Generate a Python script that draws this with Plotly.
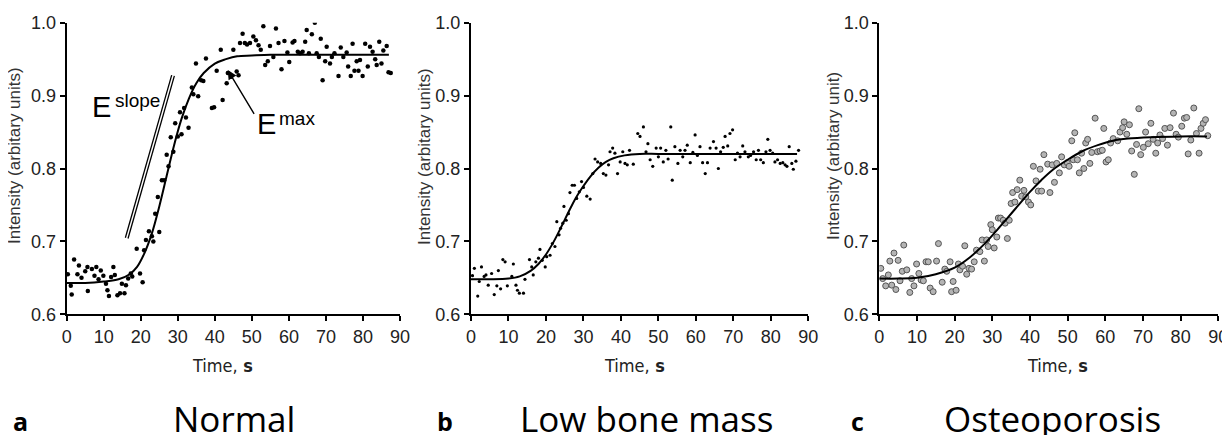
import plotly.graph_objects as go

# ---------------- data ----------------
# Panel a: Normal
a_time = [0.3, 1.1, 1.35, 2.0, 2.9, 3.3, 4.0, 5.0, 5.7, 5.6, 6.8, 7.5, 8.0, 8.6, 9.2, 9.9, 10.6, 11.0, 11.4,
          12.0, 12.6, 13.0, 13.7, 14.4, 14.9, 15.6, 16.0, 16.6, 17.3, 17.7, 18.9, 19.8, 20.5, 20.9,
          21.4, 22.2, 23.0, 23.4, 23.9, 24.6, 25.0, 25.7, 26.3, 27.0, 27.5, 28.1, 28.8, 29.3, 30.0, 30.6,
          31.0, 31.7, 32.2, 32.9, 33.8, 34.2, 34.9, 35.5, 36.3, 36.9, 37.6, 39.2, 39.8, 40.5, 41.6, 42.1,
          43.2, 43.5, 44.4, 45.0, 45.9, 46.4, 46.8, 47.5, 48.1, 48.7, 49.5, 50.4, 51.1, 51.8, 52.4, 53.1,
          53.6, 54.3, 54.9, 55.8, 56.5, 57.2, 58.0, 58.8, 59.6, 60.1, 61.0, 61.5, 62.4, 63.0, 63.7, 64.4,
          64.8, 65.4, 66.2, 67.0, 67.5, 68.1, 68.6, 69.1, 69.8, 70.2, 71.1, 71.6, 72.3, 73.4, 74.0, 74.7,
          75.6, 76.0, 76.7, 77.2, 77.7, 78.3, 78.8, 79.2, 79.9, 80.6, 81.3, 81.9, 82.6, 83.3, 83.7, 84.4,
          85.0, 85.5, 86.4, 86.9, 87.5]
a_int = [0.655, 0.639, 0.627, 0.675, 0.655, 0.667, 0.650, 0.659, 0.632, 0.665, 0.662, 0.653, 0.665, 0.648,
         0.660, 0.653, 0.642, 0.633, 0.625, 0.651, 0.665, 0.654, 0.626, 0.629, 0.642, 0.629, 0.640, 0.649,
         0.656, 0.652, 0.690, 0.656, 0.644, 0.688,
         0.702, 0.714, 0.707, 0.700, 0.738, 0.761, 0.713, 0.784, 0.784, 0.819, 0.803, 0.843, 0.823, 0.862,
         0.844, 0.877, 0.847, 0.883, 0.870, 0.856, 0.911, 0.902, 0.944, 0.899, 0.921, 0.920, 0.951, 0.883,
         0.884, 0.934, 0.963, 0.894, 0.917, 0.931, 0.926, 0.963, 0.933, 0.928, 0.972, 0.985, 0.972, 0.970,
         0.972, 0.981, 0.976, 0.969, 0.963, 0.995, 0.942, 0.947, 0.968, 0.953, 0.992, 0.972, 0.936, 0.975,
         0.959, 0.946, 0.973, 0.975, 0.960, 0.958, 0.960, 0.974, 0.990, 0.958, 0.984, 1.000, 0.958, 0.953,
         0.978, 0.921, 0.947, 0.967, 0.944, 0.953, 0.958, 0.927, 0.966, 0.953, 0.959, 0.940, 0.927, 0.971,
         0.934, 0.947, 0.934, 0.949, 0.927, 0.971, 0.940, 0.967, 0.960, 0.950, 0.942, 0.974, 0.944, 0.962,
         0.968, 0.932, 0.931]
a_fit_t = [0, 5, 10, 14, 17, 19, 21, 23, 25, 27, 29, 31, 33, 35, 37, 40, 43, 46, 50, 55, 60, 70, 80, 87]
a_fit_v = [0.643, 0.643, 0.645, 0.648, 0.655, 0.665, 0.684, 0.711, 0.748, 0.790, 0.832, 0.868, 0.896,
           0.917, 0.931, 0.944, 0.950, 0.954, 0.955, 0.956, 0.956, 0.956, 0.956, 0.956]

# Panel b: Low bone mass
b_time = [0.4, 0.9, 1.8, 2.2, 2.8, 3.5, 4.0, 4.6, 5.5, 6.2, 6.9, 7.3, 7.9, 8.5, 9.1, 9.7, 10.9, 11.3, 12.0,
          12.4, 12.9, 14.0, 14.4, 15.6, 16.2, 16.6, 17.3, 18.0, 18.4, 19.0, 19.8, 20.2, 21.1, 21.7, 22.4,
          22.9, 23.5, 23.9, 24.5, 24.8, 25.4, 26.0, 26.4, 27.0, 27.6, 28.2, 28.9, 29.5, 30.0, 30.9, 31.8,
          32.5, 33.1, 33.8, 34.6, 35.3, 36.0, 36.7, 37.1, 37.8, 38.4, 39.1, 39.8, 40.5, 41.1, 41.7, 42.3,
          43.3, 44.5, 45.1, 46.0, 46.7, 47.2, 47.8, 48.5, 49.4, 50.0, 50.6, 51.3, 52.0, 52.6, 53.3, 53.7,
          54.4, 55.2, 55.8, 56.5, 57.1, 57.7, 58.5, 59.2, 59.8, 60.4, 61.1, 61.8, 62.5, 63.1, 63.8, 64.7,
          65.4, 66.0, 66.6, 67.3, 67.8, 68.5, 69.1, 69.8, 70.5, 71.1, 71.8, 72.5, 73.1, 74.0, 74.6, 75.4,
          76.1, 76.7, 77.3, 78.0, 78.7, 79.2, 79.8, 80.5, 81.1, 81.8, 82.5, 83.2, 83.8, 84.3, 84.9, 85.6,
          86.0, 86.7, 87.4]
b_int = [0.653, 0.663, 0.625, 0.645, 0.665, 0.652, 0.654, 0.640, 0.656, 0.627, 0.639, 0.660, 0.635, 0.675,
         0.672, 0.639, 0.652, 0.669, 0.640, 0.633, 0.629, 0.629, 0.648, 0.675, 0.665, 0.654, 0.672, 0.677,
         0.689, 0.674, 0.665, 0.679, 0.681, 0.697, 0.693, 0.727, 0.709, 0.718, 0.725, 0.748, 0.729, 0.738,
         0.767, 0.777, 0.777, 0.759, 0.768, 0.782, 0.774, 0.762, 0.758, 0.793, 0.813, 0.809, 0.807, 0.793,
         0.791, 0.805, 0.823, 0.828, 0.821, 0.793, 0.809, 0.823, 0.807, 0.805, 0.825, 0.806, 0.848, 0.844,
         0.857, 0.823, 0.834, 0.812, 0.803, 0.828, 0.816, 0.828, 0.809, 0.825, 0.813, 0.857, 0.784, 0.830,
         0.807, 0.825, 0.816, 0.825, 0.832, 0.808, 0.822, 0.846, 0.818, 0.830, 0.808, 0.793, 0.808, 0.828,
         0.837, 0.828, 0.800, 0.823, 0.829, 0.844, 0.831, 0.848, 0.853, 0.812, 0.821, 0.816, 0.831, 0.823,
         0.816, 0.818, 0.823, 0.812, 0.825, 0.812, 0.808, 0.823, 0.840, 0.825, 0.821, 0.809, 0.812, 0.807,
         0.808, 0.805, 0.803, 0.830, 0.807, 0.799, 0.810, 0.825]
b_fit_t = [0, 5, 10, 13, 16, 18, 20, 22, 24, 26, 28, 30, 32, 34, 36, 38, 41, 45, 50, 60, 70, 80, 87]
b_fit_v = [0.648, 0.648, 0.649, 0.652, 0.660, 0.669, 0.682, 0.699, 0.719, 0.740, 0.760, 0.776, 0.790,
           0.801, 0.809, 0.814, 0.818, 0.820, 0.820, 0.820, 0.820, 0.820, 0.820]

# Panel c: Osteoporosis
c_time = [0.4, 0.9, 1.7, 2.4, 2.8, 3.3, 3.9, 4.4, 5.0, 5.5, 6.1, 6.5, 7.3, 8.1, 8.6, 9.2, 9.9, 10.5, 11.1,
          11.7, 12.4, 13.0, 13.5, 14.3, 15.2, 15.7, 16.7, 17.4, 17.9, 18.8, 19.2, 19.6, 20.4, 21.0, 21.4,
          22.1, 22.7, 23.2, 23.8, 24.5, 25.2, 25.8, 26.7, 27.3, 27.9, 28.5, 28.9, 29.6, 30.0, 30.5, 31.2,
          31.6, 32.2, 32.9, 33.4, 34.0, 34.5, 35.0, 35.4, 36.0, 36.6, 37.3, 37.8, 38.4, 38.9, 39.6, 40.2,
          40.9, 41.6, 42.2, 42.7, 43.1, 43.7, 44.7, 45.3, 45.9, 46.5, 47.1, 47.8, 48.4, 49.1, 49.9, 50.4,
          51.1, 51.5, 51.9, 52.6, 53.1, 53.7, 54.3, 54.8, 55.3, 55.9, 56.4, 57.3, 57.9, 58.6, 59.2, 59.6,
          60.2, 60.8, 61.4, 62.1, 63.3, 63.9, 64.6, 65.0, 65.7, 66.4, 67.0, 67.7, 68.3, 68.9, 69.4, 70.1,
          70.7, 71.4, 72.1, 72.7, 73.4, 73.9, 74.5, 75.2, 75.8, 76.5, 77.2, 78.1, 78.8, 79.4, 80.3, 81.0,
          81.6, 82.0, 82.7, 83.5, 84.2, 84.9, 85.4, 86.0, 86.6, 87.2]
c_int = [0.663, 0.649, 0.639, 0.654, 0.673, 0.640, 0.684, 0.634, 0.674, 0.646, 0.659, 0.695, 0.661, 0.630,
         0.649, 0.639, 0.669, 0.656, 0.647, 0.646, 0.672, 0.672, 0.636, 0.631, 0.673, 0.697, 0.644, 0.662,
         0.659, 0.672, 0.631, 0.645, 0.633, 0.669, 0.661, 0.666, 0.694, 0.655, 0.663, 0.662, 0.672, 0.688,
         0.686, 0.702, 0.673, 0.702, 0.693, 0.723, 0.716, 0.691, 0.706, 0.732, 0.732, 0.729, 0.725, 0.704,
         0.729, 0.752, 0.767, 0.754, 0.771, 0.784, 0.762, 0.770, 0.761, 0.754, 0.750, 0.803, 0.783, 0.769,
         0.799, 0.769, 0.819, 0.806, 0.767, 0.805, 0.781, 0.807, 0.794, 0.816, 0.805, 0.808, 0.803, 0.838,
         0.812, 0.849, 0.812, 0.794, 0.821, 0.800, 0.835, 0.840, 0.807, 0.822, 0.869, 0.823, 0.824, 0.825,
         0.855, 0.809, 0.812, 0.835, 0.841, 0.838, 0.850, 0.856, 0.864, 0.847, 0.860, 0.824, 0.792, 0.833,
         0.882, 0.819, 0.829, 0.850, 0.834, 0.862, 0.840, 0.821, 0.835, 0.846, 0.841, 0.855, 0.832, 0.856,
         0.876, 0.847, 0.843, 0.858, 0.869, 0.870, 0.820, 0.839, 0.883, 0.848, 0.821, 0.855, 0.862, 0.867,
         0.845]
c_fit_t = [0, 5, 10, 15, 20, 24, 28, 31, 34, 37, 40, 43, 46, 50, 54, 58, 62, 66, 72, 80, 87]
c_fit_v = [0.649, 0.649, 0.650, 0.655, 0.664, 0.678, 0.697, 0.714, 0.732, 0.750, 0.768, 0.784, 0.798,
           0.812, 0.824, 0.832, 0.838, 0.841, 0.843, 0.844, 0.844]

x_ticks = [0, 10, 20, 30, 40, 50, 60, 70, 80, 90]
y_ticks = [0.6, 0.7, 0.8, 0.9, 1.0]
panel_letters = ["a", "b", "c"]
panel_names = ["Normal", "Low bone mass", "Osteoporosis"]
y_titles = ["Intensity (arbitary units)", "Intensity (arbitary units)", "Intensity (arbitary unit)"]

# ---------------- figure ----------------
# the page body has an 8px margin; the figure is sized so that it fills the window
OFF = 8
W, H = 1230 - OFF, 435 - OFF


def xp(px):
    return (px - OFF) / W


def yp(py):
    return 1 - (py - OFF) / H


fig = go.Figure()

fig.add_trace(go.Scatter(x=a_time, y=a_int, mode="markers", xaxis="x", yaxis="y",
                         marker=dict(size=4.5, color="black"), showlegend=False))
fig.add_trace(go.Scatter(x=a_fit_t, y=a_fit_v, mode="lines", xaxis="x", yaxis="y",
                         line=dict(color="black", width=2, shape="spline", smoothing=1.0), showlegend=False))
fig.add_trace(go.Scatter(x=b_time, y=b_int, mode="markers", xaxis="x2", yaxis="y2",
                         marker=dict(size=3.2, color="black"), showlegend=False))
fig.add_trace(go.Scatter(x=b_fit_t, y=b_fit_v, mode="lines", xaxis="x2", yaxis="y2",
                         line=dict(color="black", width=2, shape="spline", smoothing=1.0), showlegend=False))
fig.add_trace(go.Scatter(x=c_time, y=c_int, mode="markers", xaxis="x3", yaxis="y3",
                         marker=dict(size=6, color="#b4b4b4", line=dict(color="#555555", width=1)),
                         showlegend=False))
fig.add_trace(go.Scatter(x=c_fit_t, y=c_fit_v, mode="lines", xaxis="x3", yaxis="y3",
                         line=dict(color="black", width=2, shape="spline", smoothing=1.0), showlegend=False))

x_domains = [[xp(66.7), xp(400.0)], [xp(471.0), xp(808.3)], [xp(879.3), xp(1218.3)]]
y_domain = [yp(314.3), yp(22.7)]

tickfont = dict(family="Liberation Sans, Arial, sans-serif", size=18, color="#222222")
common_x = dict(range=[0, 90], tickvals=x_ticks, ticktext=[str(v) for v in x_ticks],
                showline=True, linecolor="black", linewidth=2, ticks="outside", ticklen=5,
                tickwidth=2, tickcolor="black", showgrid=False, zeroline=False, tickfont=tickfont,
                automargin=False)
common_y = dict(range=[0.6, 1.0], tickvals=y_ticks, ticktext=["%.1f" % v for v in y_ticks],
                showline=True, linecolor="black", linewidth=2, ticks="outside", ticklen=5,
                tickwidth=2, tickcolor="black", showgrid=False, zeroline=False, tickfont=tickfont,
                automargin=False)

layout = dict(width=W, height=H, margin=dict(l=0, r=0, t=0, b=0, autoexpand=False),
              paper_bgcolor="white", plot_bgcolor="white", showlegend=False)
names = [("xaxis", "yaxis", "x", "y"), ("xaxis2", "yaxis2", "x2", "y2"), ("xaxis3", "yaxis3", "x3", "y3")]
for i, (xa, ya, xr, yr) in enumerate(names):
    layout[xa] = dict(common_x, domain=x_domains[i], anchor=yr)
    layout[ya] = dict(common_y, domain=y_domain, anchor=xr)
fig.update_layout(**layout)

annotations = []
# y-axis titles
ytitle_x = [15, 425, 834]
for i in range(3):
    annotations.append(dict(x=xp(ytitle_x[i]), y=yp(156), xref="paper", yref="paper",
                            xanchor="center", yanchor="middle",
                            text=y_titles[i], textangle=-90, showarrow=False,
                            font=dict(family="Liberation Sans, Arial, sans-serif", size=17, color="#333333")))
# x-axis titles
xtitle_x = [222, 634, 1057]
for i in range(3):
    annotations.append(dict(x=xp(xtitle_x[i]), y=yp(365), xref="paper", yref="paper",
                            xanchor="center", yanchor="middle",
                            text="Time,<b> s</b>", showarrow=False,
                            font=dict(family="Liberation Sans Narrow, DejaVu Sans Condensed, sans-serif",
                                      size=18, color="#222222")))
# panel letters and names
letter_x = [20, 445, 857]
name_x = [234, 646, 1052]
for i in range(3):
    annotations.append(dict(x=xp(letter_x[i]), y=yp(420.5), xref="paper", yref="paper",
                            xanchor="center", yanchor="middle",
                            text="<b>%s</b>" % panel_letters[i], showarrow=False,
                            font=dict(family="Open Sans, sans-serif", size=25, color="black")))
    annotations.append(dict(x=xp(name_x[i]), y=yp(418), xref="paper", yref="paper",
                            xanchor="center", yanchor="middle",
                            text=panel_names[i], showarrow=False,
                            font=dict(family="Open Sans, sans-serif", size=35, color="black")))

# E slope / E max labels in panel a
efont = "Liberation Sans, Arial, sans-serif"
annotations += [
    dict(x=9.45, y=0.884, xref="x", yref="y", text="E", showarrow=False,
         font=dict(family=efont, size=29, color="black")),
    dict(x=19.1, y=0.893, xref="x", yref="y", text="slope", showarrow=False,
         font=dict(family=efont, size=19, color="black")),
    dict(x=54.0, y=0.861, xref="x", yref="y", text="E", showarrow=False,
         font=dict(family=efont, size=29, color="black")),
    dict(x=62.3, y=0.869, xref="x", yref="y", text="max", showarrow=False,
         font=dict(family=efont, size=19, color="black")),
    dict(x=43.5, y=0.935, xref="x", yref="y", ax=50.85, ay=0.873, axref="x", ayref="y",
         text="", showarrow=True, arrowhead=2, arrowsize=1.3, arrowwidth=1.4, arrowcolor="black"),
]
fig.update_layout(annotations=annotations)

# double line for E slope
fig.add_shape(type="line", xref="x", yref="y", x0=15.84, y0=0.705, x1=28.35, y1=0.928,
              line=dict(color="black", width=1.3))
fig.add_shape(type="line", xref="x", yref="y", x0=16.56, y0=0.704, x1=29.07, y1=0.927,
              line=dict(color="black", width=1.3))

fig.write_html("out.html")
